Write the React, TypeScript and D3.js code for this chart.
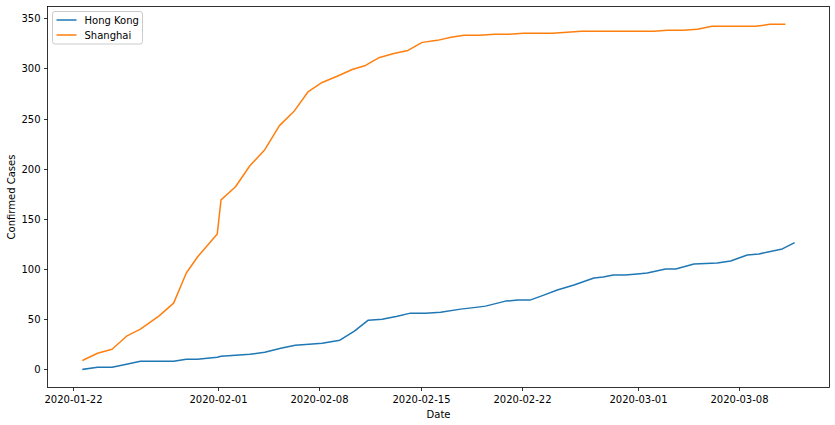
import React from "react";
import * as d3 from "d3";

// ---- data (timestamps of each report, local time) ----
const hkTimes = [
  "2020-01-22T17:00", "2020-01-23T17:00", "2020-01-24T17:00", "2020-01-25T17:00", "2020-01-26T16:00",
  "2020-01-27T22:30", "2020-01-28T23:00", "2020-01-29T20:00", "2020-01-30T14:30", "2020-01-31T23:15",
  "2020-02-01T05:30", "2020-02-02T05:30", "2020-02-03T05:15", "2020-02-04T06:00", "2020-02-05T08:25",
  "2020-02-06T08:25", "2020-02-07T07:10", "2020-02-08T05:00", "2020-02-09T10:20", "2020-02-10T10:20",
  "2020-02-11T09:20", "2020-02-12T08:25", "2020-02-13T09:20", "2020-02-14T07:10", "2020-02-15T08:25",
  "2020-02-16T09:05", "2020-02-17T18:15", "2020-02-18T23:00", "2020-02-19T11:30", "2020-02-20T20:40",
  "2020-02-21T16:50", "2020-02-22T13:00", "2020-02-23T12:00", "2020-02-24T10:20", "2020-02-25T14:00",
  "2020-02-26T23:00", "2020-02-27T14:25", "2020-02-28T07:10", "2020-02-29T02:25", "2020-02-29T22:50",
  "2020-03-01T15:20", "2020-03-02T21:35", "2020-03-03T14:25", "2020-03-04T20:40", "2020-03-06T11:15",
  "2020-03-07T09:20", "2020-03-08T13:00", "2020-03-09T08:10", "2020-03-10T23:00", "2020-03-11T18:15",
];
const hkValues = [
  0, 2, 2, 5, 8, 8, 8, 10, 10, 12,
  13, 14, 15, 17, 21, 24, 25, 26, 29, 38,
  49, 50, 53, 56, 56, 57, 60, 62, 63, 68,
  69, 69, 74, 79, 84, 91, 92, 94, 94, 95,
  96, 100, 100, 105, 106, 108, 114, 115, 120, 126,
];

const shTimes = [
  "2020-01-22T17:00", "2020-01-23T17:00", "2020-01-24T17:00", "2020-01-25T17:00", "2020-01-26T16:00",
  "2020-01-27T22:30", "2020-01-28T23:00", "2020-01-29T20:00", "2020-01-30T14:30", "2020-01-31T23:15",
  "2020-02-01T05:30", "2020-02-02T05:30", "2020-02-03T05:15", "2020-02-04T06:00", "2020-02-05T06:15",
  "2020-02-06T06:00", "2020-02-07T06:00", "2020-02-08T05:00", "2020-02-09T08:40", "2020-02-10T06:45",
  "2020-02-11T04:50", "2020-02-12T04:00", "2020-02-13T03:40", "2020-02-14T03:00", "2020-02-15T02:40",
  "2020-02-16T03:40", "2020-02-17T02:25", "2020-02-18T00:00", "2020-02-19T02:25", "2020-02-20T02:25",
  "2020-02-21T02:25", "2020-02-22T02:25", "2020-02-23T02:25", "2020-02-24T02:25", "2020-02-25T02:25",
  "2020-02-26T02:25", "2020-02-27T02:25", "2020-02-28T02:25", "2020-02-29T02:25", "2020-03-01T02:25",
  "2020-03-02T02:25", "2020-03-03T00:00", "2020-03-04T02:25", "2020-03-05T02:25", "2020-03-06T02:25",
  "2020-03-07T02:25", "2020-03-08T02:25", "2020-03-09T02:25", "2020-03-10T02:25", "2020-03-11T02:50",
];
const shValues = [
  9, 16, 20, 33, 40, 53, 66, 96, 112, 135,
  169, 182, 203, 219, 243, 257, 277, 286, 293, 299,
  303, 311, 315, 318, 326, 328, 331, 333, 333, 334,
  334, 335, 335, 335, 336, 337, 337, 337, 337, 337,
  337, 338, 338, 339, 342, 342, 342, 342, 344, 344,
];

const seriesNames = ["Hong Kong", "Shanghai"];
const seriesColors = ["#1f77b4", "#ff7f0e"];
const xTickLabels = ["2020-01-22", "2020-02-01", "2020-02-08", "2020-02-15", "2020-02-22", "2020-03-01", "2020-03-08"];
const yTicks = [0, 50, 100, 150, 200, 250, 300, 350];
const xLabel = "Date";
const yLabel = "Confirmed Cases";

const W = 835;
const H = 425;
const plot = { left: 47.5, right: 829.5, top: 6.5, bottom: 387.5 };
const FONT = "'DejaVu Sans', sans-serif";

export default function App() {
  const parseT = d3.timeParse("%Y-%m-%dT%H:%M");
  const parseD = d3.timeParse("%Y-%m-%d");
  const fmt = d3.timeFormat("%Y-%m-%d");

  const hk = hkTimes.map((t, i) => ({ t: parseT(t) as Date, v: hkValues[i] }));
  const sh = shTimes.map((t, i) => ({ t: parseT(t) as Date, v: shValues[i] }));
  const series = [hk, sh];

  const all = [...hk, ...sh];
  const [t0, t1] = d3.extent(all, (d) => d.t.getTime()) as [number, number];
  const pad = (t1 - t0) * 0.05;
  const x = d3.scaleTime().domain([new Date(t0 - pad), new Date(t1 + pad)]).range([plot.left, plot.right]);
  const y = d3.scaleLinear().domain([-18.15, 361.77]).range([plot.bottom, plot.top]);

  const line = d3
    .line<{ t: Date; v: number }>()
    .x((d) => x(d.t))
    .y((d) => y(d.v));

  const xTicks = xTickLabels.map((s) => parseD(s) as Date);

  return (
    <svg width={W} height={H} style={{ position: "absolute", left: 0, top: 0, background: "#fff" }} fontFamily={FONT}>
      <rect x={0} y={0} width={W} height={H} fill="#fff" />
      {/* lines */}
      <g>
        {series.map((s, i) => (
          <path key={i} d={line(s) || ""} fill="none" stroke={seriesColors[i]} strokeWidth={1.5} strokeLinejoin="round" strokeLinecap="square" />
        ))}
      </g>
      {/* spines */}
      <rect x={plot.left} y={plot.top} width={plot.right - plot.left} height={plot.bottom - plot.top} fill="none" stroke="#000" strokeWidth={0.8} />
      {/* x ticks */}
      <g>
        {xTicks.map((d, i) => {
          const px = Math.round(x(d)) + 0.5;
          return (
            <g key={i}>
              <line x1={px} x2={px} y1={plot.bottom} y2={plot.bottom + 3.5} stroke="#000" strokeWidth={0.8} />
              <text x={px} y={403} textAnchor="middle" fontSize={10} fill="#000">
                {fmt(d)}
              </text>
            </g>
          );
        })}
      </g>
      {/* y ticks */}
      <g>
        {yTicks.map((v, i) => {
          const py = Math.round(y(v)) + 0.5;
          return (
            <g key={i}>
              <line x1={plot.left - 3.5} x2={plot.left} y1={py} y2={py} stroke="#000" strokeWidth={0.8} />
              <text x={plot.left - 7} y={py + 3.6} textAnchor="end" fontSize={10} fill="#000">
                {v}
              </text>
            </g>
          );
        })}
      </g>
      {/* axis labels */}
      <text x={(plot.left + plot.right) / 2} y={418} textAnchor="middle" fontSize={10} fill="#000">
        {xLabel}
      </text>
      <text transform={`translate(14.8, ${(plot.top + plot.bottom) / 2}) rotate(-90)`} textAnchor="middle" fontSize={10} fill="#000">
        {yLabel}
      </text>
      {/* legend */}
      <g>
        <rect x={52.5} y={11.5} width={90} height={32.5} rx={2.5} fill="#fff" fillOpacity={0.8} stroke="#cccccc" strokeWidth={1} />
        {seriesNames.map((n, i) => {
          const ly = 20 + i * 15;
          return (
            <g key={n}>
              <line x1={56.5} x2={76.5} y1={ly} y2={ly} stroke={seriesColors[i]} strokeWidth={1.5} />
              <text x={84.5} y={ly + 3.6} fontSize={10} fill="#000">
                {n}
              </text>
            </g>
          );
        })}
      </g>
    </svg>
  );
}
